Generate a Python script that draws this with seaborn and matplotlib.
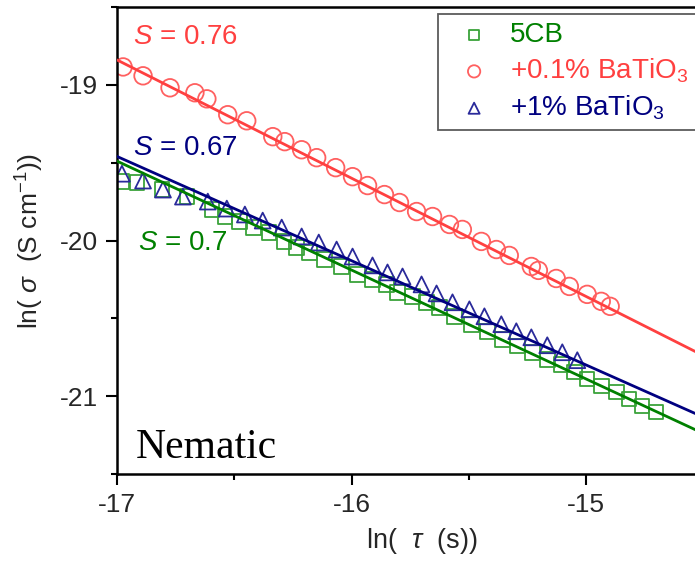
"""Conductivity vs relaxation time, nematic phase."""
import matplotlib as mpl
mpl.use("Agg")
import matplotlib.pyplot as plt
import numpy as np
import pandas as pd
import seaborn as sns

# --- data ---
ln_tau_5cb = [-16.979, -16.915, -16.809, -16.702, -16.596, -16.540, -16.477, -16.417,
              -16.353, -16.289, -16.234, -16.179, -16.115, -16.043, -15.974, -15.911,
              -15.851, -15.804, -15.740, -15.681, -15.626, -15.562, -15.489, -15.421,
              -15.357, -15.294, -15.230, -15.166, -15.106, -15.051, -14.996, -14.936,
              -14.872, -14.817, -14.762, -14.702]
ln_sigma_5cb = [-19.622, -19.628, -19.673, -19.718, -19.801, -19.846, -19.878, -19.917,
                -19.949, -20.006, -20.045, -20.077, -20.122, -20.167, -20.218, -20.250,
                -20.282, -20.333, -20.359, -20.397, -20.429, -20.487, -20.538, -20.583,
                -20.635, -20.679, -20.718, -20.763, -20.795, -20.846, -20.891, -20.936,
                -20.974, -21.019, -21.064, -21.103]

ln_tau_01 = [-16.974, -16.889, -16.774, -16.668, -16.617, -16.528, -16.447, -16.336,
             -16.285, -16.213, -16.149, -16.068, -15.996, -15.932, -15.860, -15.796,
             -15.723, -15.655, -15.583, -15.528, -15.447, -15.383, -15.328, -15.234,
             -15.204, -15.128, -15.072, -14.996, -14.936, -14.898]
ln_sigma_01 = [-18.885, -18.942, -19.019, -19.051, -19.090, -19.192, -19.231, -19.333,
               -19.365, -19.417, -19.468, -19.532, -19.590, -19.647, -19.705, -19.756,
               -19.814, -19.846, -19.897, -19.929, -20.006, -20.058, -20.096, -20.167,
               -20.192, -20.244, -20.295, -20.346, -20.391, -20.423]

ln_tau_1 = [-16.979, -16.889, -16.804, -16.719, -16.613, -16.532, -16.455, -16.379,
            -16.298, -16.213, -16.140, -16.064, -15.996, -15.911, -15.847, -15.783,
            -15.702, -15.638, -15.570, -15.498, -15.434, -15.362, -15.298, -15.234,
            -15.166, -15.102, -15.038]
ln_sigma_1 = [-19.571, -19.615, -19.673, -19.718, -19.750, -19.795, -19.833, -19.872,
              -19.917, -19.974, -20.013, -20.058, -20.103, -20.160, -20.205, -20.231,
              -20.282, -20.340, -20.397, -20.442, -20.487, -20.538, -20.583, -20.622,
              -20.673, -20.718, -20.769]

# fitted lines: ln(sigma) = c - S * ln(tau)
series = ["5CB", "+0.1% BaTiO$_3$", "+1% BaTiO$_3$"]
slopes = [0.70, 0.76, 0.67]
intercepts = [-31.39, -31.76, -30.85]
fit_x = [-17.0, -14.4]

line_colors = ["#008000", "#ff4040", "#000080"]
marker_colors = ["#3aa33a", "#ff6060", "#2a2a9a"]
markers = ["s", "o", "^"]
sizes = [110, 160, 130]

sns.set_theme(style="ticks")
plt.rcParams["font.family"] = ["Liberation Sans", "DejaVu Sans"]
plt.rcParams["mathtext.fontset"] = "custom"
plt.rcParams["mathtext.rm"] = "Liberation Sans"
plt.rcParams["mathtext.it"] = "Liberation Sans:italic"
plt.rcParams["axes.unicode_minus"] = False

fig = plt.figure(figsize=(6.95, 5.63), dpi=100)
# the original plot box runs past the right edge of the picture
ax = fig.add_axes([117 / 695, 1 - 474 / 563, 610 / 695, (474 - 7) / 563])

frames = [
    pd.DataFrame({"x": ln_tau_5cb, "y": ln_sigma_5cb}),
    pd.DataFrame({"x": ln_tau_01, "y": ln_sigma_01}),
    pd.DataFrame({"x": ln_tau_1, "y": ln_sigma_1}),
]

for d, name, S, c, lc, mc, m, s in zip(frames, series, slopes, intercepts,
                                       line_colors, marker_colors, markers, sizes):
    fit = pd.DataFrame({"x": fit_x, "y": [c - S * v for v in fit_x]})
    sns.lineplot(data=fit, x="x", y="y", color=lc, lw=2, ax=ax, zorder=3)
    sns.scatterplot(data=d, x="x", y="y", marker=m, s=s, facecolor="none",
                    edgecolor=mc, linewidth=1.3, label=name, ax=ax, zorder=2)

ax.set_xlim(-17, -14.4)
ax.set_ylim(-21.5, -18.5)
ax.set_xticks([-17, -16, -15])
ax.set_xticks([-16.5, -15.5, -14.5], minor=True)
ax.set_yticks([-21, -20, -19])
ax.set_yticks([-21.5, -20.5, -19.5, -18.5], minor=True)
ax.tick_params(which="major", length=8, width=1.5, labelsize=19, pad=6, color="black")
ax.tick_params(which="minor", length=4, width=1.5, color="black")
for side in ["left", "bottom", "top", "right"]:
    ax.spines[side].set_linewidth(1.8)
    ax.spines[side].set_color("black")

ax.set_xlabel("ln(  $\\tau$  (s))", fontsize=19.5, labelpad=6)
ax.set_ylabel("ln( $\\sigma$  (S cm$^{-1}$))", fontsize=19, labelpad=10)

ax.text(-16.93, -18.74, "$S$ = 0.76", color="#ff4040", fontsize=20)
ax.text(-16.93, -19.45, "$S$ = 0.67", color="#000080", fontsize=20)
ax.text(-16.91, -20.06, "$S$ = 0.7", color="#008000", fontsize=20)
ax.text(-16.92, -21.4, "Nematic", family=["Liberation Serif", "DejaVu Serif"],
        fontsize=30, color="black")

leg = ax.legend(loc="upper left", bbox_to_anchor=(321 / 610, 0.985), frameon=True,
                fancybox=False, edgecolor="#333333", fontsize=20, handletextpad=0.3,
                labelspacing=0.3, borderpad=0.3, borderaxespad=0, markerscale=0.7)
leg.get_frame().set_linewidth(1.3)
for t, col in zip(leg.get_texts(), line_colors):
    t.set_color(col)

fig.savefig("out.png", dpi=100)
